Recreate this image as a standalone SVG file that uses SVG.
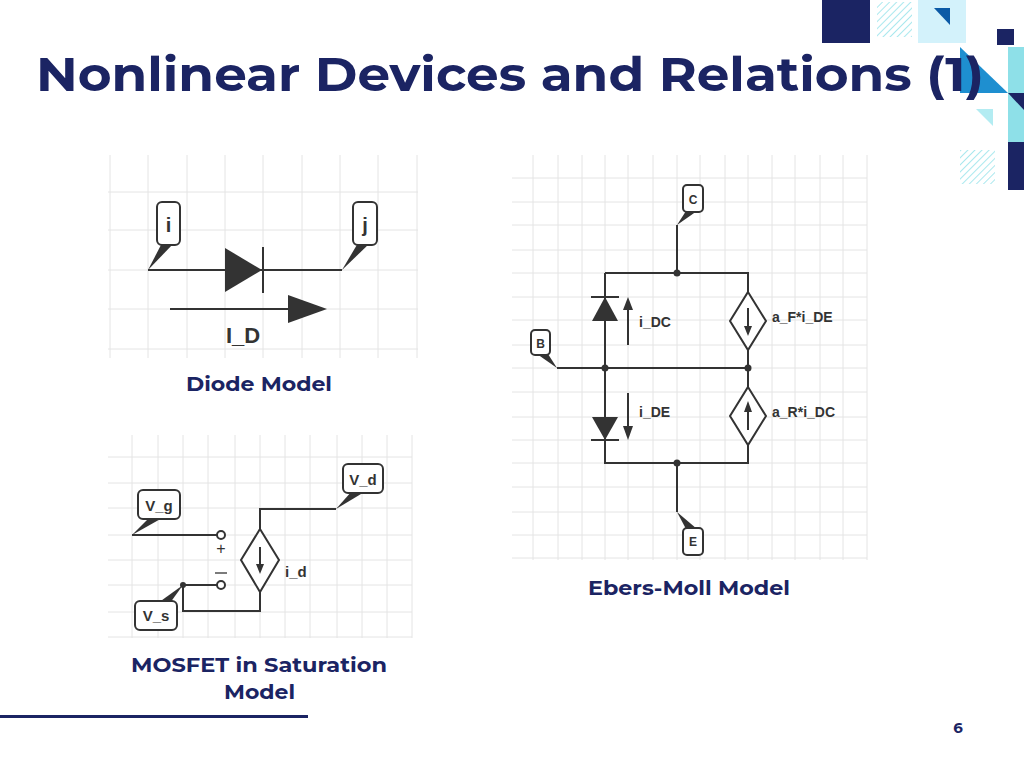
<svg xmlns="http://www.w3.org/2000/svg" width="1024" height="768" viewBox="0 0 1024 768">
<style>
.t{font-family:Montserrat,"Open Sans","Liberation Sans",sans-serif;font-weight:700;fill:#1b2463}
.g{stroke:#e4e4e4;stroke-width:1;fill:none}
.w{stroke:#333;stroke-width:2;fill:none}
.lb{font-family:"Liberation Sans",Arial,sans-serif;fill:#333;font-weight:700}
.box{fill:#fff;stroke:#333;stroke-width:2}
.tail{fill:#333}
</style>
<defs>
<pattern id="h" width="5" height="5" patternUnits="userSpaceOnUse" patternTransform="rotate(45)"><line x1="0" y1="0" x2="0" y2="5" stroke="#8ee0e8" stroke-width="1.5"/></pattern>
</defs>
<rect width="1024" height="768" fill="#fff"/>
<g id="deco">
<rect x="822" y="0" width="48" height="43" fill="#1b2463"/>
<rect x="877" y="2" width="35" height="35" fill="url(#h)"/>
<rect x="918" y="0" width="48" height="43" fill="#d3f2fb"/>
<polygon points="934,8 950,8 950,25" fill="#0b5aa6"/>
<rect x="997" y="29" width="17" height="16" fill="#1b2463"/>
<rect x="1008" y="47" width="16" height="95" fill="#8ee0e8"/>
<polygon points="960,47 1008,93 960,93" fill="#1e8fd0"/>
<polygon points="1008,93 1024,93 1024,110" fill="#1b2463"/>
<polygon points="976,109 993,109 993,126" fill="#b3ecf2"/>
<rect x="960" y="150" width="35" height="34" fill="url(#h)"/>
<rect x="1008" y="142" width="16" height="48" fill="#1b2463"/>
</g>
<text class="t" x="36" y="91" font-size="48" textLength="948" lengthAdjust="spacingAndGlyphs">Nonlinear Devices and Relations (1)</text>

<g id="diode-panel">
<path class="g" d="M110 155V358M148 155V358M187 155V358M225 155V358M263 155V358M302 155V358M340 155V358M378 155V358M417 155V358M108 192H418M108 230H418M108 270H418M108 309H418M108 349H418"/>
<g id="diode-wires"><path class="w" d="M148 270H342"/><polygon points="225,248 262,270 225,292" fill="#333"/><path class="w" d="M263 247V293"/>
<path class="w" d="M170 309H292"/><polygon points="288,295 327,309 288,323" fill="#333"/></g>
<g id="node-i"><polygon class="tail" points="148,270 162,243 174,243"/><rect class="box" x="157" y="202" width="23" height="43" rx="5"/><text class="lb" x="168.5" y="232" font-size="20" text-anchor="middle" font-weight="400">i</text></g>
<g id="node-j"><polygon class="tail" points="342,270 358,243 370,243"/><rect class="box" x="353" y="202" width="24" height="43" rx="5"/><text class="lb" x="365" y="232" font-size="20" text-anchor="middle" font-weight="400">j</text></g>
<text class="lb" x="243" y="343" font-size="22" text-anchor="middle" font-weight="400">I_D</text>
</g>
<text class="t" x="186" y="391" font-size="20" textLength="146" lengthAdjust="spacingAndGlyphs">Diode Model</text>

<g id="mosfet-panel">
<path class="g" d="M132 435V638M158 435V638M183 435V638M208 435V638M235 435V638M260 435V638M285 435V638M310 435V638M337 435V638M362 435V638M387 435V638M412 435V638M108 457H412M108 483H412M108 508H412M108 535H412M108 560H412M108 585H412M108 612H412M108 637H412"/>
<g id="connectors">
<path class="w" d="M132 535H217M183 585H217M183 585V611H260V592M336 509H260V529"/>
<circle cx="221" cy="535" r="4" fill="#fff" stroke="#333" stroke-width="2"/>
<circle cx="221" cy="585" r="4" fill="#fff" stroke="#333" stroke-width="2"/>
<circle cx="183" cy="585" r="3" fill="#333"/>
</g>
<g id="source-id"><polygon points="260,529 279,560 260,592 241,560" fill="#fff" stroke="#333" stroke-width="2"/><path class="w" d="M260 547V566"/><polygon points="256,564 264,564 260,574" fill="#333"/>
<text class="lb" x="285" y="577" font-size="15" font-weight="400">i_d</text></g>
<text x="221" y="554" font-family="'Liberation Sans',sans-serif" font-size="16" fill="#333" text-anchor="middle">+</text>
<path d="M215 573H227" stroke="#333" stroke-width="1.3"/>
<g id="node-vg"><polygon class="tail" points="132,535 150,517 164,517"/><rect class="box" x="138" y="490" width="42" height="29" rx="5"/><text class="lb" x="159" y="511" font-size="15" text-anchor="middle" font-weight="400">V_g</text></g>
<g id="node-vd"><polygon class="tail" points="336,509 352,491 366,491"/><rect class="box" x="343" y="464" width="40" height="29" rx="5"/><text class="lb" x="363" y="485" font-size="15" text-anchor="middle" font-weight="400">V_d</text></g>
<g id="node-vs"><polygon class="tail" points="183,585 158,603 170,603"/><rect class="box" x="135" y="601" width="42" height="29" rx="5"/><text class="lb" x="156" y="621" font-size="15" text-anchor="middle" font-weight="400">V_s</text></g>
</g>
<text class="t" x="131" y="672" font-size="20" textLength="256" lengthAdjust="spacingAndGlyphs">MOSFET in Saturation</text>
<text class="t" x="224" y="699" font-size="20" textLength="71" lengthAdjust="spacingAndGlyphs">Model</text>

<g id="em-panel">
<path class="g" d="M533 155V560M558 155V560M582 155V560M605 155V560M628 155V560M653 155V560M677 155V560M700 155V560M725 155V560M748 155V560M772 155V560M795 155V560M820 155V560M843 155V560M867 155V560M512 178H867M512 202H867M512 225H867M512 250H867M512 273H867M512 297H867M512 320H867M512 345H867M512 368H867M512 392H867M512 417H867M512 440H867M512 463H867M512 487H867M512 512H867M512 535H867M512 558H867"/>
<g id="em-connectors">
<path class="w" d="M677 225V273M605 273H748V292M605 273V463H748V445M748 350V387M557 368H748M677 463V512"/>
<circle cx="677" cy="273" r="3.5" fill="#333"/><circle cx="605" cy="368" r="3.5" fill="#333"/><circle cx="748" cy="368" r="3.5" fill="#333"/><circle cx="677" cy="463" r="3.5" fill="#333"/>
</g>
<g id="dc-diode"><polygon points="605,297 618,321 592,321" fill="#333"/><path class="w" d="M591 297H619"/>
<path class="w" d="M628 345V308"/><polygon points="623,310 633,310 628,297" fill="#333"/><text class="lb" x="639" y="327" font-size="14" font-weight="400">i_DC</text></g>
<g id="de-diode"><polygon points="592,417 618,417 605,440" fill="#333"/><path class="w" d="M591 440H619"/>
<path class="w" d="M628 393V428"/><polygon points="623,426 633,426 628,440" fill="#333"/><text class="lb" x="639" y="417" font-size="14" font-weight="400">i_DE</text></g>
<g id="src-f"><polygon points="748,292 766,321 748,350 730,321" fill="#fff" stroke="#333" stroke-width="2"/><path class="w" d="M748 308V328"/><polygon points="744,326 752,326 748,336" fill="#333"/><text class="lb" x="772" y="322" font-size="14" font-weight="400">a_F*i_DE</text></g>
<g id="src-r"><polygon points="748,387 766,416 748,445 730,416" fill="#fff" stroke="#333" stroke-width="2"/><path class="w" d="M748 430V410"/><polygon points="744,412 752,412 748,401" fill="#333"/><text class="lb" x="772" y="417" font-size="14" font-weight="400">a_R*i_DC</text></g>
<g id="node-c"><polygon class="tail" points="677,225 686,211 697,211"/><rect class="box" x="683" y="185" width="20" height="27" rx="4"/><text class="lb" x="693" y="204" font-size="12" text-anchor="middle">C</text></g>
<g id="node-b"><polygon class="tail" points="557,368 537,354 548,354"/><rect class="box" x="531" y="330" width="19" height="25" rx="4"/><text class="lb" x="540.5" y="348" font-size="12" text-anchor="middle">B</text></g>
<g id="node-e"><polygon class="tail" points="677,512 686,529 697,529"/><rect class="box" x="683" y="528" width="20" height="27" rx="4"/><text class="lb" x="693" y="546" font-size="12" text-anchor="middle">E</text></g>
</g>
<text class="t" x="588" y="595" font-size="20" textLength="202" lengthAdjust="spacingAndGlyphs">Ebers-Moll Model</text>
<rect x="0" y="715" width="308" height="3" fill="#1b2463"/>
<text class="t" x="958" y="733" font-size="15" text-anchor="middle">6</text>
</svg>
